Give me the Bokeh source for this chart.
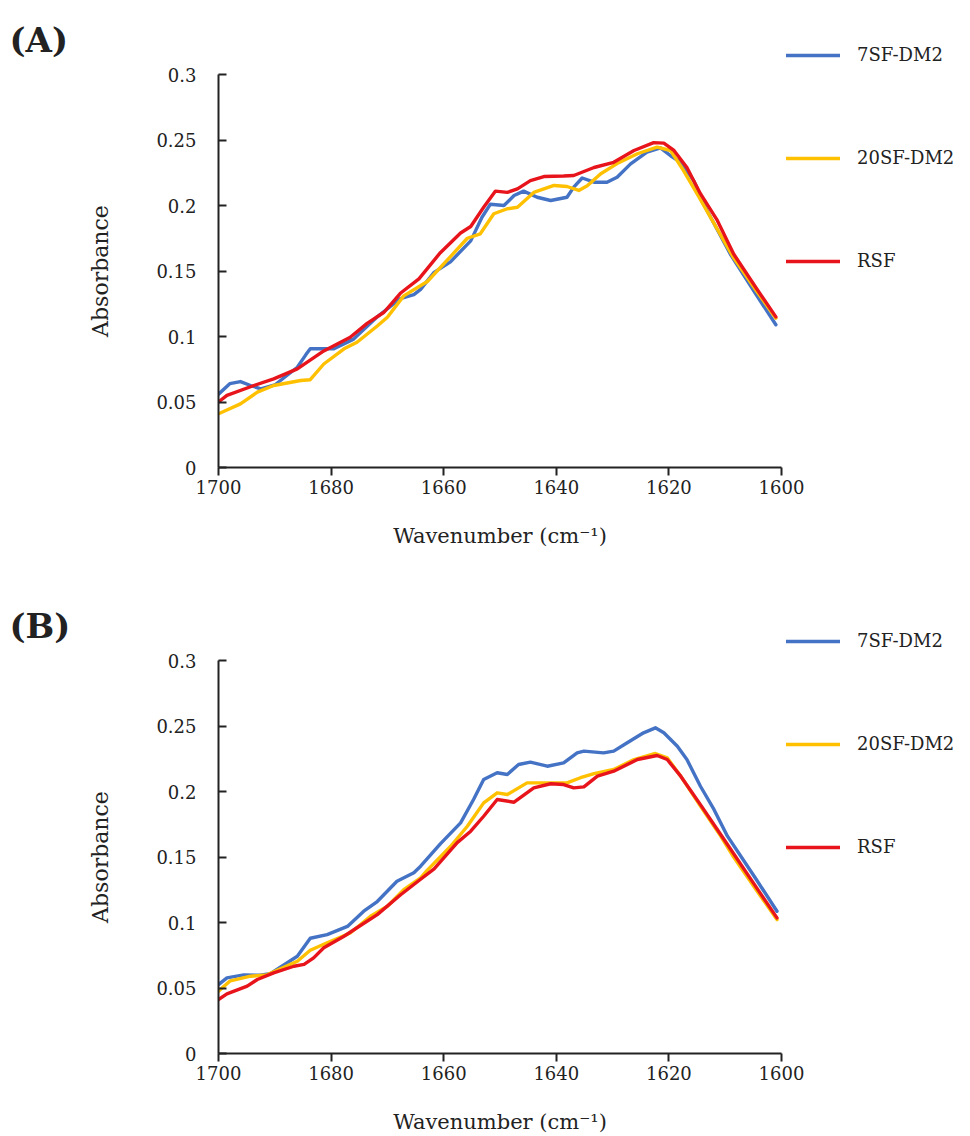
from bokeh.plotting import figure
from bokeh.layouts import column
from bokeh.models import Range1d, FixedTicker, Legend, LegendItem
from bokeh.embed import file_html
from bokeh.resources import INLINE

# ---------------- data ----------------
series_names = ["7SF-DM2", "20SF-DM2", "RSF"]
colors = ["#4472C4", "#FFC000", "#E8141C"]

# Panel (A)
a_blue_wn = [1700, 1698, 1696.1, 1694.3, 1692.5, 1690, 1686, 1684.5, 1683.7, 1679.5, 1676, 1671.8, 1667.7, 1665.3,
             1664.1, 1661.7, 1658.8, 1655.2, 1653.2, 1651.7, 1649.3, 1647.5, 1645.8, 1643.4, 1641, 1638.1, 1636.9,
             1635.4, 1633.3, 1631, 1629.2, 1626.8, 1623.9, 1621.5, 1619.7, 1617.9, 1615.6, 1613.2, 1609.1, 1604.5,
             1601]
a_blue_abs = [0.056, 0.064, 0.0656, 0.0626, 0.060, 0.063, 0.0765, 0.086, 0.0906, 0.0906, 0.098, 0.115, 0.129, 0.132,
              0.136, 0.149, 0.157, 0.173, 0.191, 0.201, 0.200, 0.2076, 0.211, 0.2063, 0.2038, 0.2063, 0.214,
              0.221, 0.2178, 0.2178, 0.2216, 0.2318, 0.2407, 0.244, 0.238, 0.233, 0.219, 0.196, 0.163, 0.132,
              0.109]

a_yellow_wn = [1700, 1696.1, 1693.1, 1690.2, 1685.4, 1683.7, 1681.3, 1677.7, 1675.4, 1671.8, 1670, 1667.1, 1662.9,
               1658.8, 1655.8, 1653.5, 1651.1, 1648.7, 1646.9, 1644, 1640.4, 1638.1, 1636, 1634.5, 1632.1, 1629.2,
               1625.6, 1622.1, 1619.7, 1617.4, 1615, 1608.5, 1604.5, 1601]
a_yellow_abs = [0.041, 0.0486, 0.0575, 0.0626, 0.0664, 0.067, 0.079, 0.0906, 0.0956, 0.108, 0.1147, 0.131, 0.142,
                0.161, 0.175, 0.1784, 0.1937, 0.1975, 0.1987, 0.210, 0.2153, 0.2145, 0.2115, 0.215, 0.2242, 0.232,
                0.2395, 0.2445, 0.242, 0.2267, 0.209, 0.160, 0.135, 0.114]

a_red_wn = [1700, 1698.5, 1693.7, 1690.2, 1686, 1681.3, 1676.6, 1673.6, 1670.6, 1667.7, 1664.4, 1660.6, 1657,
            1655.2, 1652.9, 1650.8, 1648.7, 1646.9, 1644.6, 1642.2, 1638.7, 1636.9, 1633.3, 1629.8, 1626.2, 1622.7,
            1620.9, 1619.1, 1616.8, 1614.4, 1611.4, 1608.5, 1604.5, 1601]
a_red_abs = [0.050, 0.055, 0.0626, 0.0677, 0.0753, 0.089, 0.0994, 0.110, 0.1185, 0.133, 0.144, 0.164, 0.179,
             0.184, 0.1987, 0.211, 0.210, 0.2127, 0.219, 0.2221, 0.2225, 0.2229, 0.229, 0.233, 0.242, 0.248,
             0.2476, 0.242, 0.229, 0.209, 0.1886, 0.163, 0.137, 0.115]

# Panel (B)
b_blue_wn = [1700, 1698.5, 1695.5, 1692.6, 1690.8, 1686, 1683.7, 1680.7, 1677.1, 1674.2, 1671.8, 1668.3, 1665.3,
             1664.1, 1660.6, 1657, 1654.7, 1652.9, 1650.5, 1648.7, 1646.7, 1644.6, 1641.6, 1638.7, 1636.3, 1635.1,
             1631.6, 1629.8, 1627.4, 1624.5, 1622.4, 1620.9, 1618.5, 1616.8, 1614.4, 1612, 1609.6, 1604.5, 1600.8]
b_blue_abs = [0.0526, 0.0577, 0.060, 0.0597, 0.061, 0.0742, 0.088, 0.0908, 0.097, 0.1086, 0.116, 0.1315, 0.138,
              0.143, 0.160, 0.176, 0.1939, 0.2092, 0.2143, 0.213, 0.2206, 0.2224, 0.2193, 0.2218, 0.2295, 0.2308,
              0.2295, 0.2308, 0.2372, 0.2448, 0.2486, 0.2448, 0.2346, 0.2244, 0.204, 0.1863, 0.1659, 0.133, 0.1086]

b_yellow_wn = [1700, 1697.9, 1694.3, 1691.4, 1686, 1683.7, 1680.7, 1676.6, 1673, 1670, 1667.1, 1664.1, 1662.9,
               1658.8, 1655.8, 1652.9, 1650.5, 1648.7, 1645.2, 1641.6, 1638.1, 1635.7, 1633.3, 1629.8, 1626.2,
               1622.4, 1620.3, 1617.9, 1614.4, 1610.8, 1608.5, 1604.5, 1600.8]
b_yellow_abs = [0.0476, 0.0555, 0.059, 0.060, 0.0704, 0.0788, 0.0845, 0.092, 0.1048, 0.1124, 0.125, 0.134, 0.140,
                0.158, 0.1735, 0.1913, 0.199, 0.1977, 0.2066, 0.2066, 0.2066, 0.2105, 0.2137, 0.2168, 0.2244,
                0.229, 0.2257, 0.2117, 0.1888, 0.1659, 0.150, 0.125, 0.1022]

b_red_wn = [1700, 1698.5, 1694.9, 1693.1, 1690.2, 1686.6, 1684.8, 1683.1, 1681.3, 1677.7, 1675.4, 1671.8, 1667.7,
            1664.1, 1661.7, 1657.6, 1655.2, 1652.9, 1650.5, 1647.5, 1644, 1641, 1638.7, 1636.9, 1635.1, 1632.7,
            1629.8, 1625.6, 1622.1, 1620.3, 1617.9, 1614.4, 1610.2, 1604.5, 1600.8]
b_red_abs = [0.0412, 0.0455, 0.0514, 0.0565, 0.0616, 0.0666, 0.068, 0.073, 0.0807, 0.0895, 0.096, 0.106, 0.121,
             0.133, 0.141, 0.161, 0.1697, 0.1811, 0.1939, 0.1918, 0.2028, 0.2059, 0.2053, 0.2028, 0.2035, 0.2117,
             0.2155, 0.2244, 0.2275, 0.2244, 0.2117, 0.190, 0.1634, 0.127, 0.1035]

x_ticks = [1700, 1680, 1660, 1640, 1620, 1600]
y_ticks = [0, 0.05, 0.1, 0.15, 0.2, 0.25, 0.3]
y_tick_labels = ["0", "0.05", "0.1", "0.15", "0.2", "0.25", "0.3"]

FONT = "DejaVu Serif"
INK = "#222222"


def make_panel(tag, data, top, bottom):
    p = figure(frame_width=563, frame_height=393, output_backend="svg", toolbar_location=None,
               x_range=Range1d(1700, 1600), y_range=Range1d(0, 0.3),
               min_border_left=218, min_border_right=181, min_border_top=top, min_border_bottom=bottom)
    p.outline_line_color = None
    p.grid.visible = False
    p.background_fill_color = "white"
    p.border_fill_color = "white"

    p.title.text = tag
    p.title.align = "left"
    p.title.offset = -209
    p.title.standoff = 29
    p.title.text_font = FONT
    p.title.text_font_style = "bold"
    p.title.text_font_size = "34px"
    p.title.text_color = INK

    items = []
    for (wn, ab), name, col in zip(data, series_names, colors):
        r = p.line(wn, ab, line_color=col, line_width=3.4, line_join="round", line_cap="round")
        items.append(LegendItem(label=name, renderers=[r]))

    xa = p.xaxis[0]
    xa.ticker = FixedTicker(ticks=x_ticks)
    xa.major_tick_in = 0
    xa.major_tick_out = 8
    xa.minor_tick_line_color = None
    xa.axis_line_width = 2
    xa.major_tick_line_width = 2
    xa.axis_line_color = INK
    xa.major_tick_line_color = INK
    xa.major_label_text_font = FONT
    xa.major_label_text_font_size = "18px"
    xa.major_label_text_color = INK
    xa.major_label_standoff = 4
    xa.axis_label = "Wavenumber (cm\u207b\u00b9)"
    xa.axis_label_text_font = FONT
    xa.axis_label_text_font_style = "normal"
    xa.axis_label_text_font_size = "21px"
    xa.axis_label_text_color = INK
    xa.axis_label_standoff = 27

    ya = p.yaxis[0]
    ya.ticker = FixedTicker(ticks=y_ticks)
    ya.major_label_overrides = {t: l for t, l in zip(y_ticks, y_tick_labels)}
    ya.major_tick_in = 8
    ya.major_tick_out = 0
    ya.minor_tick_line_color = None
    ya.axis_line_width = 2
    ya.major_tick_line_width = 2
    ya.axis_line_color = INK
    ya.major_tick_line_color = INK
    ya.major_label_text_font = FONT
    ya.major_label_text_font_size = "18px"
    ya.major_label_text_color = INK
    ya.major_label_standoff = 22
    ya.axis_label = "Absorbance"
    ya.axis_label_text_font = FONT
    ya.axis_label_text_font_style = "normal"
    ya.axis_label_text_font_size = "22px"
    ya.axis_label_text_color = INK
    ya.axis_label_standoff = 40

    leg = Legend(items=items, location=(5, 196), orientation="vertical",
                 glyph_width=54, glyph_height=20, label_height=20, spacing=82,
                 label_standoff=17, padding=0, margin=0,
                 border_line_color=None, background_fill_alpha=0,
                 label_text_font=FONT, label_text_font_size="18px", label_text_color=INK)
    p.add_layout(leg, "right")
    return p


pa = make_panel("(A)", [(a_blue_wn, a_blue_abs), (a_yellow_wn, a_yellow_abs), (a_red_wn, a_red_abs)], 74, 122)
pb = make_panel("(B)", [(b_blue_wn, b_blue_abs), (b_yellow_wn, b_yellow_abs), (b_red_wn, b_red_abs)], 66, 72)

layout = column(pa, pb, spacing=0)
open("out.html", "w").write(file_html(layout, INLINE))
